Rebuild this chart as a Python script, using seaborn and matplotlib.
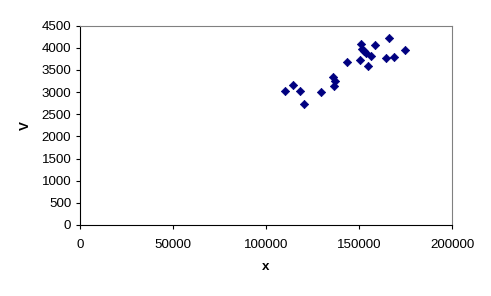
import matplotlib
matplotlib.use("Agg")
import matplotlib.pyplot as plt
import seaborn as sns
import pandas as pd

x_vals = [110125, 114424, 118184, 120333, 129465, 135912, 136986, 136449,
          143755, 150578, 151115, 151652, 152726, 153800, 156487, 155036,
          158796, 166317, 164705, 169003, 174913]
y_vals = [3033, 3168, 3033, 2739, 3010, 3349, 3258, 3145,
          3681, 3719, 4087, 3967, 3929, 3891, 3816, 3590,
          4057, 4222, 3764, 3793, 3951]
x_ticks = [0, 50000, 100000, 150000, 200000]
y_ticks = [0, 500, 1000, 1500, 2000, 2500, 3000, 3500, 4000, 4500]

sns.set_style("white")
plt.rcParams['font.family'] = ['Liberation Sans', 'DejaVu Sans']

df = pd.DataFrame({"x": x_vals, "V": y_vals})

fig = plt.figure(figsize=(4.91, 2.96), dpi=100)
ax = fig.add_axes([0.1623, 0.2399, 0.9206 - 0.1623, 0.9132 - 0.2399])
sns.scatterplot(data=df, x="x", y="V", ax=ax, marker="D", s=18,
                color="#000080", edgecolor="#000080", linewidth=0.5)

ax.set_xlim(0, 200000)
ax.set_ylim(0, 4500)
ax.set_xticks(x_ticks)
ax.set_yticks(y_ticks)
ax.set_xticklabels([str(t) for t in x_ticks], fontsize=9.6, color="black")
ax.set_yticklabels([str(t) for t in y_ticks], fontsize=9.6, color="black")
ax.set_xlabel("x", fontsize=9.6, fontweight="bold", labelpad=7, color="black")
ax.set_ylabel("V", fontsize=9.6, fontweight="bold", labelpad=7, color="black")

for s in ["left", "bottom"]:
    ax.spines[s].set_color("black")
    ax.spines[s].set_linewidth(0.8)
for s in ["top", "right"]:
    ax.spines[s].set_color("#808080")
    ax.spines[s].set_linewidth(0.8)

ax.tick_params(axis="both", which="both", direction="out", length=3,
               width=0.8, color="black", labelcolor="black",
               bottom=True, left=True)
ax.tick_params(axis="y", pad=3)
ax.tick_params(axis="x", pad=7)

fig.savefig("out.png", dpi=100, facecolor="white")
